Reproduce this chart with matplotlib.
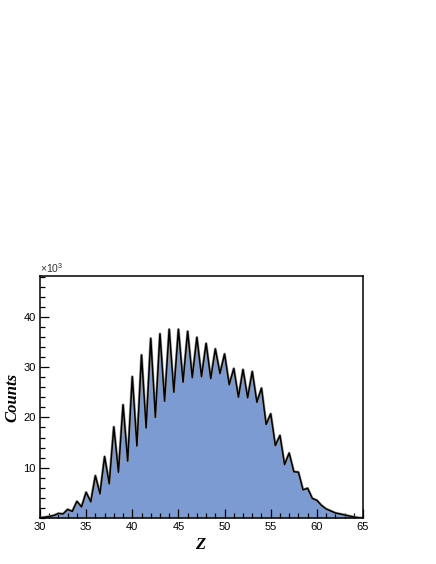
import numpy as np
import matplotlib
matplotlib.use("Agg")
import matplotlib.pyplot as plt
from matplotlib.ticker import MultipleLocator, FixedLocator

plt.rcParams['font.family'] = ['Liberation Sans', 'DejaVu Sans']
plt.rcParams['mathtext.fontset'] = 'custom'
plt.rcParams['mathtext.rm'] = 'Liberation Sans'

# Z values (0.5 steps) and counts in thousands
z = np.arange(30.0, 65.5, 0.5)
counts_k = [
    0.05, 0.15, 0.3, 0.5, 0.9, 0.8, 1.7, 1.3, 3.3, 2.2,
    5.1, 3.2, 8.4, 4.8, 12.2, 6.8, 18.1, 9.1, 22.5, 11.3,
    28.1, 14.3, 32.4, 17.9, 35.7, 20.0, 36.6, 23.2, 37.5, 25.0,
    37.5, 27.0, 37.1, 27.9, 35.9, 28.1, 34.7, 27.7, 33.6, 28.7,
    32.6, 26.5, 29.7, 24.0, 29.5, 23.9, 29.1, 23.0, 25.8, 18.6,
    20.7, 14.4, 16.4, 10.6, 12.9, 9.2, 9.1, 5.6, 5.9, 3.9,
    3.5, 2.5, 1.8, 1.4, 1.0, 0.8, 0.6, 0.4, 0.2, 0.05,
    0.0,
]
x_major = [30, 35, 40, 45, 50, 55, 60, 65]
y_major = [10, 20, 30, 40]

fig = plt.figure(figsize=(4.36, 5.64), dpi=100)
ax = fig.add_axes([40 / 436, 1 - 518 / 564, 323 / 436, 242 / 564])

ax.fill_between(z, counts_k, 0, color='#7b9bd2', lw=0)
ax.plot(z, counts_k, color='#999999', lw=2.0, solid_joinstyle='round')
ax.plot(z, counts_k, color='black', lw=1.1, solid_joinstyle='round')

ax.set_xlim(30, 65)
ax.set_ylim(0, 48.1)

ax.xaxis.set_major_locator(FixedLocator(x_major))
ax.xaxis.set_minor_locator(MultipleLocator(1))
ax.yaxis.set_major_locator(FixedLocator(y_major))
ax.yaxis.set_minor_locator(MultipleLocator(2))
ax.tick_params(which='both', direction='in', top=False, right=False,
               labelsize=8, width=0.9)
ax.tick_params(which='major', length=6.5, pad=3)
ax.tick_params(which='minor', length=3.3)
for s in ax.spines.values():
    s.set_linewidth(1.1)

ax.text(0, 1.004, r'$\times$10$^{3}$', transform=ax.transAxes,
        fontsize=7.5, ha='left', va='bottom', color='#333333')

fig.text(12 / 436, 1 - 397 / 564, 'Counts', rotation=90, ha='center', va='center',
         family='Liberation Serif', fontsize=12, fontweight='bold', style='italic')
fig.text(200 / 436, 1 - 545 / 564, 'Z', ha='center', va='center',
         family='Liberation Serif', fontsize=12, fontweight='bold', style='italic')

fig.savefig('out.png', dpi=100)
